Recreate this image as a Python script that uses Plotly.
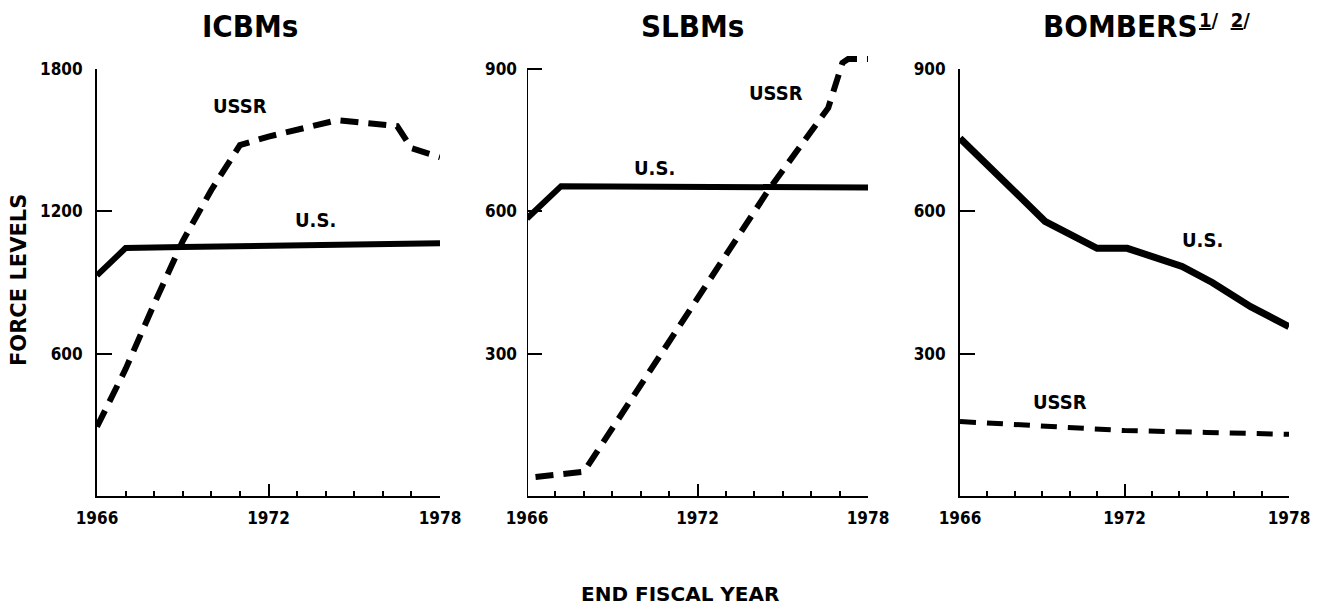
import plotly.graph_objects as go

# ---- data ----
icbm_us_years = [1966, 1967, 1969, 1978]
icbm_us_vals = [930, 1045, 1050, 1065]
icbm_ussr_years = [1966, 1967, 1968, 1969, 1970, 1971, 1972, 1973, 1974.4, 1976.5, 1977, 1978]
icbm_ussr_vals = [292, 535, 810, 1075, 1290, 1479, 1515, 1545, 1584, 1559, 1466, 1428]

slbm_us_years = [1966, 1967.2, 1978]
slbm_us_vals = [585, 653, 650]
slbm_ussr_years = [1966.3, 1968, 1974.5, 1976.6, 1977.1, 1977.3, 1978]
slbm_ussr_vals = [40, 51, 645, 818, 913, 921, 921]

bomb_us_years = [1966, 1969.1, 1971, 1972.1, 1974.1, 1975.2, 1976.6, 1978]
bomb_us_vals = [754, 579, 522, 522, 484, 450, 399, 357]
bomb_ussr_years = [1966, 1969, 1972, 1975, 1978]
bomb_ussr_vals = [157, 147, 138, 134, 130]

x_ticks = [1966, 1972, 1978]
icbm_yticks = [600, 1200, 1800]
other_yticks = [300, 600, 900]

panel_titles = ["ICBMs", "SLBMs", "BOMBERS"]

# page body has an 8px default margin; work in screen pixels and shift
OFF = 8
W, H = 1324 - OFF, 607 - OFF
AX_TOP, BOTTOM_S = 69, 496     # screen rows of top tick (1800 / 900) and of zero
AREA_TOP_S = 54                # screen row of plot-area top (room for SLBM overshoot)
TOP, BOTTOM = AREA_TOP_S - OFF, BOTTOM_S - OFF
frac_top = (BOTTOM_S - AX_TOP) / (BOTTOM_S - AREA_TOP_S)

NARROW = "Liberation Sans Narrow, Arial Narrow, DejaVu Sans Condensed, sans-serif"
WIDE = "DejaVu Sans, Verdana, sans-serif"

fig = go.Figure()

solid = dict(color="black", width=6)
dashed = dict(color="black", width=6, dash="18px,10px")

fig.add_trace(go.Scatter(x=icbm_us_years, y=icbm_us_vals, mode="lines", line=solid, xaxis="x", yaxis="y"))
fig.add_trace(go.Scatter(x=icbm_ussr_years, y=icbm_ussr_vals, mode="lines", line=dashed, xaxis="x", yaxis="y"))
fig.add_trace(go.Scatter(x=slbm_us_years, y=slbm_us_vals, mode="lines", line=solid, xaxis="x2", yaxis="y2"))
fig.add_trace(go.Scatter(x=slbm_ussr_years, y=slbm_ussr_vals, mode="lines", line=dashed, xaxis="x2", yaxis="y2"))
fig.add_trace(go.Scatter(x=bomb_us_years, y=bomb_us_vals, mode="lines", line=dict(color="black", width=7),
                         xaxis="x3", yaxis="y3"))
fig.add_trace(go.Scatter(x=bomb_ussr_years, y=bomb_ussr_vals, mode="lines",
                         line=dict(color="black", width=5, dash="16px,11px"), xaxis="x3", yaxis="y3"))

domains = [(97, 440), (527, 868), (960, 1289)]  # screen px
tickfont = dict(family=NARROW, size=17, color="black", weight="bold")


def xaxis_cfg(dom, anchor):
    return dict(
        domain=[(dom[0] - OFF) / W, (dom[1] - OFF) / W], anchor=anchor, range=[1966, 1978],
        tickvals=x_ticks, ticktext=[str(v) for v in x_ticks],
        ticks="inside", ticklen=12, tickwidth=2, tickcolor="black",
        minor=dict(ticks="inside", ticklen=5, tickwidth=2, tickcolor="black", dtick=1, tick0=1966, showgrid=False),
        showline=True, linecolor="black", linewidth=2, showgrid=False, zeroline=False,
        tickfont=tickfont, ticklabelstandoff=6, fixedrange=True, automargin=False,
    )


def yaxis_cfg(anchor, rng, ticks, dom_top, showline=True):
    return dict(
        domain=[0, dom_top], anchor=anchor, range=rng, tickvals=ticks, ticktext=[str(v) for v in ticks],
        ticks="inside", ticklen=15, tickwidth=2, tickcolor="black",
        showline=showline, linecolor="black", linewidth=2, showgrid=False, zeroline=False,
        tickfont=tickfont, ticklabelstandoff=9, fixedrange=True, automargin=False,
    )


fig.update_layout(
    width=W, height=H,
    margin=dict(l=0, r=0, t=TOP, b=H - BOTTOM, pad=0, autoexpand=False),
    paper_bgcolor="white", plot_bgcolor="white",
    showlegend=False,
    xaxis=xaxis_cfg(domains[0], "y"),
    xaxis2=xaxis_cfg(domains[1], "y2"),
    xaxis3=xaxis_cfg(domains[2], "y3"),
    yaxis=yaxis_cfg("x", [0, 1800], icbm_yticks, frac_top),
    yaxis2=yaxis_cfg("x2", [0, 900 / frac_top], other_yticks, 1, showline=False),
    yaxis3=yaxis_cfg("x3", [0, 900], other_yticks, frac_top),
)

# SLBM vertical axis line only up to the 900 tick (the USSR line overshoots it)
fig.add_shape(type="line", xref="x2", yref="y2", x0=1966, x1=1966, y0=0, y1=max(other_yticks),
              line=dict(color="black", width=2))


def px(p):
    return (p - OFF) / W


def py(p):
    return (BOTTOM - (p - OFF)) / (BOTTOM - TOP)


ann = []
title_font = dict(family=NARROW, size=31, color="black", weight="bold")
for cx, t in zip([250, 692, 1120], panel_titles):
    ann.append(dict(x=px(cx), y=py(26), xref="paper", yref="paper", text=t, showarrow=False,
                    font=title_font, xanchor="center", yanchor="middle"))
ann.append(dict(x=px(1197), y=py(20), xref="paper", yref="paper", text="<u>1</u>/  <u>2</u>/",
                showarrow=False, font=dict(family=NARROW, size=20, color="black", weight="bold"),
                xanchor="left", yanchor="middle"))
ann.append(dict(x=px(19), y=py(280), xref="paper", yref="paper", text="FORCE LEVELS", textangle=-90,
                showarrow=False, font=dict(family=WIDE, size=21, color="black", weight="bold"),
                xanchor="center", yanchor="middle"))
ann.append(dict(x=px(680), y=py(594), xref="paper", yref="paper", text="END FISCAL YEAR",
                showarrow=False, font=dict(family=WIDE, size=20, color="black", weight="bold"),
                xanchor="center", yanchor="middle"))

lab_font = dict(family=NARROW, size=20, color="black", weight="bold")
labels = [
    ("x", "y", 1971.0, 1643, "USSR"),
    ("x", "y", 1973.66, 1162, "U.S."),
    ("x2", "y2", 1970.47, 691, "U.S."),
    ("x2", "y2", 1974.76, 849, "USSR"),
    ("x3", "y3", 1974.86, 539, "U.S."),
    ("x3", "y3", 1969.65, 199, "USSR"),
]
for xr, yr, xv, yv, t in labels:
    ann.append(dict(x=xv, y=yv, xref=xr, yref=yr, text=t, showarrow=False, font=lab_font,
                    xanchor="center", yanchor="middle"))

fig.update_layout(annotations=ann)

fig.write_html("out.html")
